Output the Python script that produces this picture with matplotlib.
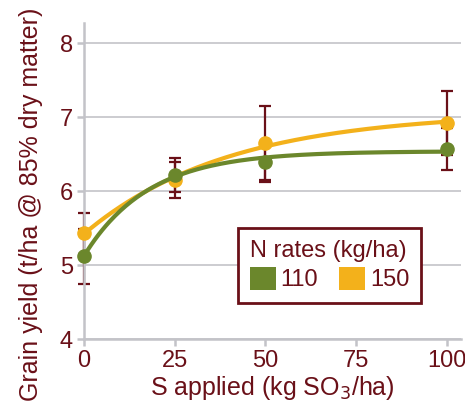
import matplotlib
matplotlib.use("Agg")
import matplotlib.pyplot as plt
from matplotlib.patches import Patch
import numpy as np

# data
s_rates = [0, 25, 50, 100]
yield_110 = [5.12, 6.22, 6.39, 6.57]
yield_150 = [5.43, 6.15, 6.65, 6.92]
err_110 = [0.37, 0.23, 0.27, 0.28]
err_150 = [0.28, 0.24, 0.50, 0.43]
series_names = ["110", "150"]
xticks = [0, 25, 50, 75, 100]
yticks = [4, 5, 6, 7, 8]

maroon = "#6a1018"
green = "#6b872c"
gold = "#f3b11b"
axgray = "#c3c3c8"

plt.rcParams['font.family'] = ['Liberation Sans', 'DejaVu Sans']


def trend(x, y):
    # least squares fit of y = a - b*exp(-c*x), the fitted response curve
    x = np.asarray(x, float)
    y = np.asarray(y, float)
    best = None
    for c in np.linspace(0.005, 0.2, 2000):
        A = np.column_stack([np.ones_like(x), -np.exp(-c * x)])
        coef, res, _, _ = np.linalg.lstsq(A, y, rcond=None)
        r = np.sum((A @ coef - y) ** 2)
        if best is None or r < best[0]:
            best = (r, coef, c)
    _, (a, b), c = best
    xs = np.linspace(x.min(), x.max(), 200)
    return xs, a - b * np.exp(-c * xs)


fig = plt.figure(figsize=(4.65, 4.08), dpi=100)
ax = fig.add_axes([0.1806, 0.169, 0.8108, 0.7745])

for yv, ev in [(yield_110, err_110), (yield_150, err_150)]:
    eb = ax.errorbar(s_rates, yv, yerr=ev, fmt='none', ecolor=maroon,
                     elinewidth=1.6, capsize=4.5, capthick=1.6, zorder=2)
    for art in eb.get_children():
        art.set_clip_on(False)

for yv, col, z in [(yield_150, gold, 3), (yield_110, green, 4)]:
    xs, ys = trend(s_rates, yv)
    ax.plot(xs, ys, '-', color=col, lw=3, zorder=z, clip_on=False,
            solid_capstyle='round')
    ax.plot(s_rates, yv, 'o', color=col, ms=9.5, zorder=z + 0.5, clip_on=False)

ax.set_xlim(0, 104)
ax.set_ylim(4, 8.27)
ax.set_xticks(xticks)
ax.set_yticks(yticks)
ax.yaxis.grid(True, color=axgray, lw=1.2)
ax.set_axisbelow(True)
for sp in ['top', 'right']:
    ax.spines[sp].set_visible(False)
for sp in ['left', 'bottom']:
    ax.spines[sp].set_color(axgray)
    ax.spines[sp].set_linewidth(1.8)
ax.tick_params(colors=axgray, labelcolor=maroon, labelsize=17, length=5,
               width=1.8, pad=3)

ax.set_xlabel("S applied (kg SO$_3$/ha)", color=maroon, fontsize=18, labelpad=1)
fig.text(31 / 465, 1 - 204 / 408, "Grain yield (t/ha @ 85% dry matter)",
         color=maroon, fontsize=18, rotation=90, ha='center', va='center')

handles = [Patch(facecolor=green), Patch(facecolor=gold)]
leg = ax.legend(handles, series_names, title="N rates (kg/ha)", ncol=2,
                loc='lower left', bbox_to_anchor=(0.408, 0.114),
                borderaxespad=0,
                fontsize=17, title_fontsize=17, fancybox=False,
                framealpha=1, edgecolor=maroon, handlelength=1.1,
                handleheight=1.1, handletextpad=0.2, columnspacing=0.9,
                borderpad=0.5, labelspacing=0.2)
leg.get_frame().set_linewidth(2)
leg._legend_box.align = "left"
leg.get_title().set_color(maroon)
for t in leg.get_texts():
    t.set_color(maroon)

fig.savefig("out.png", dpi=100)
